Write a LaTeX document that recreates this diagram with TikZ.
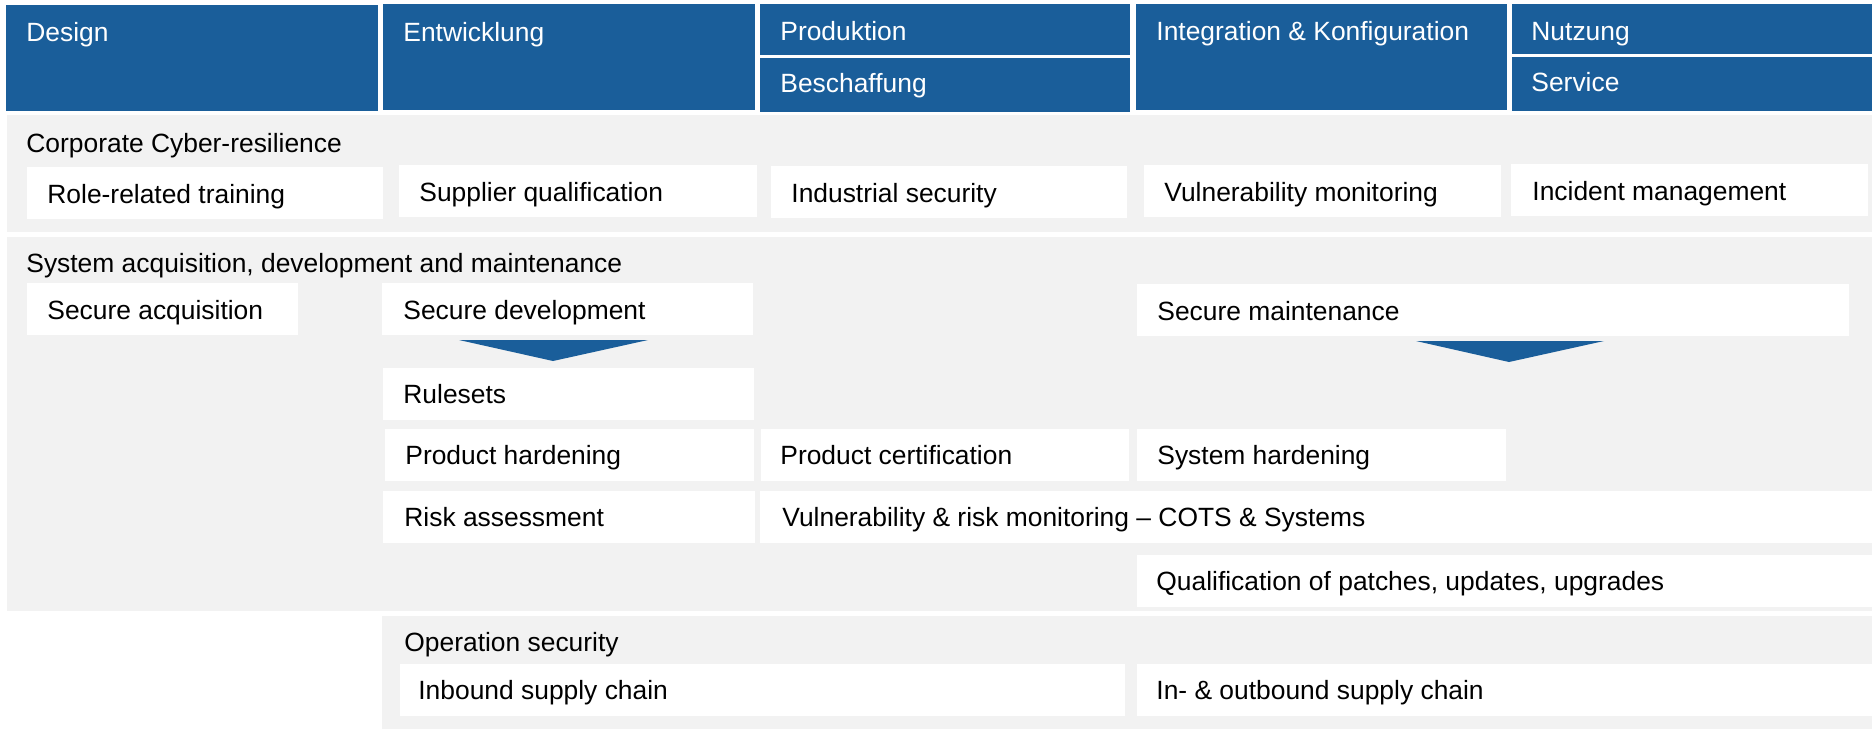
\documentclass[tikz,border=0pt]{standalone}
\usepackage{fontspec}
\setmainfont{Liberation Sans}
\definecolor{hdblue}{RGB}{26,94,154}
\definecolor{bandgray}{RGB}{242,242,242}
\def\hcell(#1,#2)(#3,#4){\fill[hdblue] (#1,#2) rectangle (#3,#4);}
\def\cell(#1,#2)(#3,#4){\fill[white] (#1,#2) rectangle (#3,#4);}

\begin{document}
\begin{tikzpicture}[x=0.5pt,y=-0.5pt,
		lbl/.style={anchor=west, inner sep=0pt, text height=9.4pt, text depth=0pt, font=\fontsize{13.2}{15}\selectfont},
		hlbl/.style={lbl, text=white}]
		\useasboundingbox (0,0) rectangle (1872,729);
		%%%%% HEADER %%%%%
		\hcell(6,5)(378,111)
		\hcell(383,4)(755,110)
		\hcell(760,4)(1130,55)
		\hcell(760,58)(1130,112)
		\hcell(1136,4)(1507,110)
		\hcell(1512,4)(1872,54)
		\hcell(1512,57)(1872,111)
		\node[hlbl] (design) at (26,32) {Design};
		\node[hlbl] (entw) at (403,32) {Entwicklung};
		\node[hlbl] (prod) at (780,31) {Produktion};
		\node[hlbl] (besch) at (780,83) {Beschaffung};
		\node[hlbl] (integ) at (1156,31) {Integration \& Konfiguration};
		\node[hlbl] (nutz) at (1531,31) {Nutzung};
		\node[hlbl] (serv) at (1531,82) {Service};
		
		%%%%% CORPORATE %%%%%
		\fill[bandgray] (7,115) rectangle (1872,232);
		\node[lbl] (corp) at (26,143) {Corporate Cyber-resilience};
		\cell(27,167)(383,219)
		\cell(399,165)(757,217)
		\cell(771,166)(1127,218)
		\cell(1144,165)(1501,217)
		\cell(1511,164)(1868,216)
		\node[lbl] (role) at (47,194) {Role-related training};
		\node[lbl] (suppl) at (419,192) {Supplier qualification};
		\node[lbl] (indsec) at (791,193) {Industrial security};
		\node[lbl] (vulnmon) at (1164,192) {Vulnerability monitoring};
		\node[lbl] (incid) at (1532,191) {Incident management};
		
		%%%%% SYSTEM %%%%%
		\fill[bandgray] (7,237) rectangle (1872,611);
		\node[lbl] (sysacq) at (26,263) {System acquisition, development and maintenance};
		\cell(27,283)(298,335)
		\cell(382,283)(753,335)
		\cell(1137,284)(1849,336)
		\node[lbl] (secacq) at (47,310) {Secure acquisition};
		\node[lbl] (secdev) at (403,310) {Secure development};
		\node[lbl] (secmaint) at (1157,311) {Secure maintenance};
		\fill[hdblue] (459,340) -- (648,340) -- (553,361) -- cycle;
		\fill[hdblue] (1416,341) -- (1604,341) -- (1509,362) -- cycle;
		
		\cell(383,368)(754,420)
		\node[lbl] (rules) at (403,394) {Rulesets};
		\cell(385,429)(754,481)
		\cell(761,429)(1129,481)
		\cell(1137,429)(1506,481)
		\node[lbl] (prodhard) at (405,455) {Product hardening};
		\node[lbl] (prodcert) at (780,455) {Product certification};
		\node[lbl] (syshard) at (1157,455) {System hardening};
		\cell(383,491)(755,543)
		\cell(760,491)(1872,543)
		\node[lbl] (risk) at (404,517) {Risk assessment};
		\node[lbl] (vulnrisk) at (782,517) {Vulnerability \& risk monitoring – COTS \& Systems};
		\cell(1137,555)(1872,607)
		\node[lbl] (qual) at (1156,581) {Qualification of patches, updates, upgrades};
		
		%%%%% OPERATION %%%%%
		\fill[bandgray] (382,616) rectangle (1872,729);
		\node[lbl] (opsec) at (404,642) {Operation security};
		\cell(400,664)(1125,716)
		\cell(1137,664)(1872,716)
		\node[lbl] (inbound) at (418,690) {Inbound supply chain};
		\node[lbl] (inout) at (1156,690) {In- \& outbound supply chain};
	\end{tikzpicture}
\end{document}
